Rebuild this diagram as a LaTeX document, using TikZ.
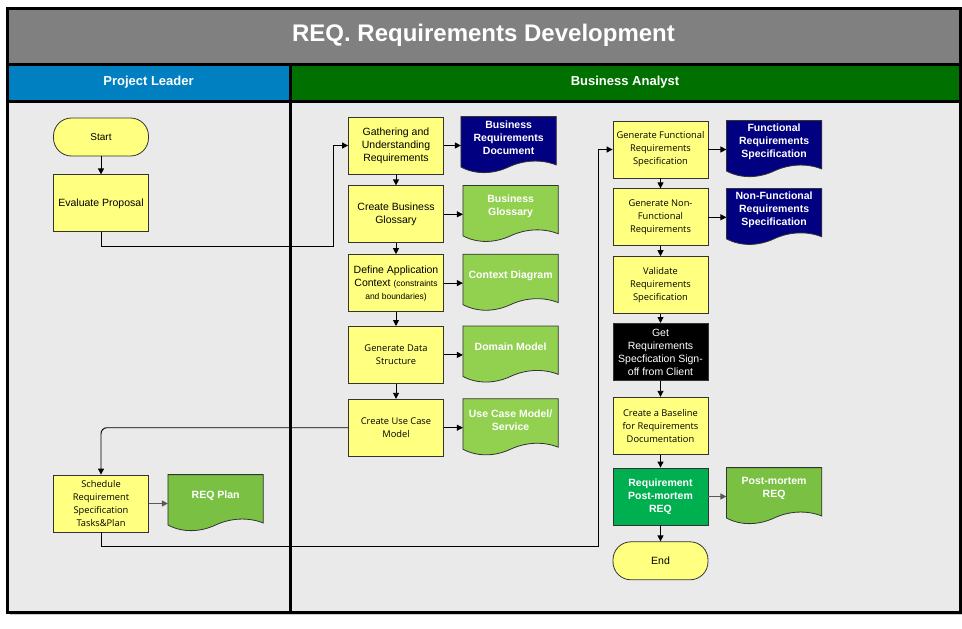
\documentclass[tikz,border=0pt]{standalone}
\usepackage{fontspec}
\setmainfont{Liberation Sans}
\newfontfamily\altfont{Open Sans}
\usepackage{tikz}
\usetikzlibrary{positioning}
\usetikzlibrary{arrows.meta,calc,backgrounds}
\pgfdeclarelayer{lanes}
\pgfsetlayers{lanes,background,main}
\definecolor{titlegray}{HTML}{808080}
\definecolor{leaderblue}{HTML}{0080C0}
\definecolor{analystgreen}{HTML}{007000}
\definecolor{lanegray}{HTML}{EAEAEA}
\definecolor{taskyellow}{HTML}{FFFF80}
\definecolor{boxline}{HTML}{333333}
\definecolor{docnavy}{HTML}{000080}
\definecolor{docgreen}{HTML}{92D050}
\definecolor{plangreen}{HTML}{7AC143}
\definecolor{pmgreen}{HTML}{00B050}
\tikzstyle{lane} = [line width=3pt, draw=black]
\tikzstyle{titletext} = [text=white, font=\fontsize{24}{28}\selectfont\bfseries]
\tikzstyle{lanetext} = [text=white, font=\fontsize{13}{15}\selectfont\bfseries]
\tikzstyle{task} = [rectangle, minimum width=95pt, minimum height=57pt, inner sep=1pt, text centered, align=center, draw=boxline, line width=0.8pt, fill=taskyellow, font=\fontsize{10.5}{13}\selectfont]
\tikzstyle{taskalt} = [task, font=\altfont\fontsize{9.3}{13}\selectfont]
\tikzstyle{terminal} = [task, minimum height=38pt, rounded corners=18pt, font=\fontsize{10}{12}\selectfont]
\tikzstyle{signbox} = [task, fill=black, text=white]
\tikzstyle{pmbox} = [task, fill=pmgreen, text=white, font=\fontsize{10.5}{13}\selectfont\bfseries]
\tikzstyle{docnode} = [rectangle, minimum width=95pt, minimum height=42pt, inner sep=1pt, text centered, align=center, text=white, font=\fontsize{10.5}{13}\selectfont\bfseries]
\tikzstyle{arrow} = [line width=0.9pt, -{Triangle[length=6pt,width=6pt]}]
\newcommand{\docshape}[2]{%
  \begin{pgfonlayer}{background}
    \filldraw[fill=#2, draw=boxline, line width=0.8pt] (#1.north west) -- (#1.north east) -- ($(#1.south east)+(0,6)$)
      .. controls +(-15,-6) and +(15,-7) .. ($(#1.south)+(0,8)$)
      .. controls +(-15,7) and +(15,8) .. ($(#1.south west)+(0,8)$) -- cycle;
  \end{pgfonlayer}}
\begin{document}
\begin{tikzpicture}[x=1pt, y=-1pt]
            \useasboundingbox (0,0) rectangle (962,629);
            % swimlanes
            \begin{pgfonlayer}{lanes}
                \fill[white] (0,0) rectangle (962,629);
                \fill[black!20] (10,11) rectangle (962,615);
                \fill[titlegray] (7,8) rectangle (960,64);
                \fill[leaderblue] (7,64) rectangle (290,101);
                \fill[analystgreen] (290,64) rectangle (960,101);
                \fill[lanegray] (7,101) rectangle (960,612);
                \draw[lane] (7,8) rectangle (960,612);
                \draw[lane] (7,64) -- (960,64);
                \draw[lane] (7,101) -- (960,101);
                \draw[lane] (290,64) -- (290,612);
            \end{pgfonlayer}
            \node (title) [titletext] at (483.5,35) {REQ. Requirements Development};
            \node (leader) [lanetext] at (148.5,82.5) {Project Leader};
            \node (analyst) [lanetext] at (625,82.5) {Business Analyst};

            % Project Leader
            \node (start) [terminal] at (101,137) {Start};
            \node (evaluate) [task, below=18pt of start] {Evaluate Proposal};
            \node (schedule) [taskalt] at (101,503.5) {Schedule\\Requirement\\Specification\\Tasks\&Plan};
            \node (reqplan) [docnode, anchor=north west, xshift=19pt] at (schedule.north east) {REQ Plan};

            % Business Analyst, first column
            \node (gather) [task] at (396,145.5) {Gathering and\\Understanding\\Requirements};
            \node (glossary) [task, below=11pt of gather] {Create Business\\Glossary};
            \node (context) [task, below=11pt of glossary] {Define Application\\Context {\fontsize{8.5}{13}\selectfont(constraints}\\{\fontsize{8.5}{13}\selectfont and boundaries)}};
            \node (datastruct) [taskalt, below=14pt of context] {Generate Data\\Structure};
            \node (usecase) [taskalt, below=15pt of datastruct] {Create Use Case\\Model};
            \node (brd) [docnode, anchor=north west, xshift=17pt] at (gather.north east) {Business\\Requirements\\Document};
            \node (glossarydoc) [docnode, anchor=north west, xshift=19pt] at (glossary.north east) {Business\\Glossary};
            \node (contextdoc) [docnode, anchor=north west, xshift=19pt] at (context.north east) {Context Diagram};
            \node (domaindoc) [docnode, anchor=north west, xshift=19pt] at (datastruct.north east) {Domain Model};
            \node (usecasedoc) [docnode, anchor=north west, xshift=19pt] at (usecase.north east) {Use Case Model/\\Service};

            % Business Analyst, second column
            \node (genfunc) [taskalt] at (660.5,149.5) {Generate Functional\\Requirements\\Specification};
            \node (gennonfunc) [taskalt, below=10pt of genfunc] {Generate Non-\\Functional\\Requirements};
            \node (validate) [taskalt, below=10pt of gennonfunc] {Validate\\Requirements\\Specification};
            \node (signoff) [signbox, below=9pt of validate] {Get\\Requirements\\Specfication Sign-\\off from Client};
            \node (baseline) [taskalt, below=16pt of signoff] {Create a Baseline\\for Requirements\\Documentation};
            \node (postmortem) [pmbox, below=13pt of baseline] {Requirement\\Post-mortem\\REQ};
            \node (end) [terminal, below=16pt of postmortem, font=\fontsize{10.5}{12}\selectfont] {End};
            \node (frs) [docnode, anchor=north west, xshift=18pt] at (genfunc.north east) {Functional\\Requirements\\Specification};
            \node (nfrs) [docnode, anchor=north west, xshift=18pt] at (gennonfunc.north east) {Non-Functional\\Requirements\\Specification};
            \node (pmdoc) [docnode, anchor=north west, xshift=18pt] at (postmortem.north east) {Post-mortem\\REQ};

            \docshape{reqplan}{plangreen}
            \docshape{brd}{docnavy}
            \docshape{glossarydoc}{docgreen}
            \docshape{contextdoc}{docgreen}
            \docshape{domaindoc}{docgreen}
            \docshape{usecasedoc}{docgreen}
            \docshape{frs}{docnavy}
            \docshape{nfrs}{docnavy}
            \docshape{pmdoc}{plangreen}

            \draw[arrow] (start) -- (evaluate);
            \draw[arrow] (evaluate.south) -- ++(0,14) -| ([xshift=-15pt]gather.west) -- (gather.west);
            \draw[arrow] (gather) -- (glossary);
            \draw[arrow] (glossary) -- (context);
            \draw[arrow] (context) -- (datastruct);
            \draw[arrow] (datastruct) -- (usecase);
            \draw[arrow] (gather.east) -- (gather.east -| brd.west);
            \draw[arrow] (glossary.east) -- (glossary.east -| glossarydoc.west);
            \draw[arrow] (context.east) -- (context.east -| contextdoc.west);
            \draw[arrow] (datastruct.east) -- (datastruct.east -| domaindoc.west);
            \draw[arrow] (usecase.east) -- (usecase.east -| usecasedoc.west);
            \draw[arrow, rounded corners=6pt] (usecase.west) -| (schedule.north);
            \draw[arrow, draw=black!65] (schedule.east) -- (schedule.east -| reqplan.west);
            \draw[arrow] (schedule.south) -- ++(0,14) -| ([xshift=-14pt]genfunc.west) -- (genfunc.west);
            \draw[arrow] (genfunc) -- (gennonfunc);
            \draw[arrow] (gennonfunc) -- (validate);
            \draw[arrow] (validate) -- (signoff);
            \draw[arrow] (signoff) -- (baseline);
            \draw[arrow] (baseline) -- (postmortem);
            \draw[arrow] (postmortem) -- (end);
            \draw[arrow] (genfunc.east) -- (genfunc.east -| frs.west);
            \draw[arrow] (gennonfunc.east) -- (gennonfunc.east -| nfrs.west);
            \draw[arrow, draw=black!65] (postmortem.east) -- (postmortem.east -| pmdoc.west);
        \end{tikzpicture}
\end{document}
